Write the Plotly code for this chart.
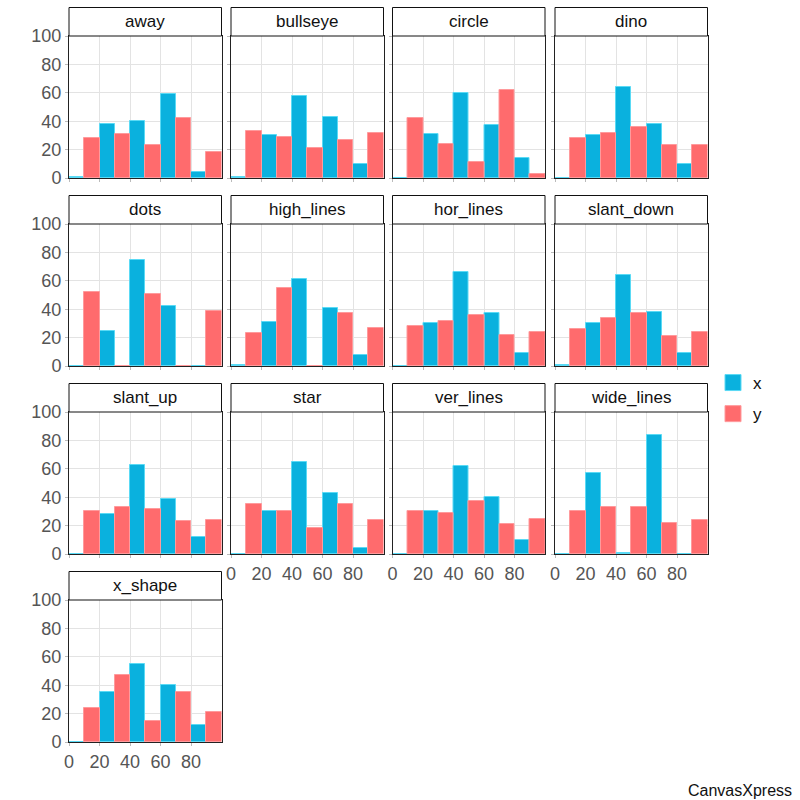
import plotly.graph_objects as go

# ---------------- data ----------------
DATASETS = ["away", "bullseye", "circle", "dino", "dots", "high_lines", "hor_lines",
            "slant_down", "slant_up", "star", "ver_lines", "wide_lines", "x_shape"]
BIN_CENTERS = [10, 30, 50, 70, 90]          # bins 0-20, 20-40, ..., 80-100
X_TICKS = [0, 20, 40, 60, 80]
Y_TICKS = [0, 20, 40, 60, 80, 100]
SERIES = ["x", "y"]

X_COUNTS = [
    [1, 38, 40, 59, 4],    # away
    [1, 30, 58, 43, 10],   # bullseye
    [0, 31, 60, 37, 14],   # circle
    [0, 30, 64, 38, 10],   # dino
    [0, 25, 75, 42, 0],    # dots
    [1, 31, 61, 41, 8],    # high_lines
    [0, 30, 66, 37, 9],    # hor_lines
    [1, 30, 64, 38, 9],    # slant_down
    [0, 28, 63, 39, 12],   # slant_up
    [0, 30, 65, 43, 4],    # star
    [0, 30, 62, 40, 10],   # ver_lines
    [0, 57, 1, 84, 0],     # wide_lines
    [0, 35, 55, 40, 12],   # x_shape
]
Y_COUNTS = [
    [28, 31, 23, 42, 18],  # away
    [33, 29, 21, 27, 32],  # bullseye
    [42, 24, 11, 62, 3],   # circle
    [28, 32, 36, 23, 23],  # dino
    [52, 0, 51, 0, 39],    # dots
    [23, 55, 0, 37, 27],   # high_lines
    [28, 32, 36, 22, 24],  # hor_lines
    [26, 34, 37, 21, 24],  # slant_down
    [30, 33, 32, 23, 24],  # slant_up
    [35, 30, 18, 35, 24],  # star
    [30, 29, 37, 21, 25],  # ver_lines
    [30, 33, 33, 22, 24],  # wide_lines
    [24, 47, 15, 35, 21],  # x_shape
]

# ---------------- styles ----------------
W = H = 800
BLUE, BLUE_EDGE = "#0AB1DE", "#5ADAF5"
RED, RED_EDGE = "#FF6B6D", "#FF9A9C"
FONT = "Liberation Sans, Arial, Helvetica, sans-serif"
GRID = "#E3E3E3"
TICKFONT = dict(family=FONT, size=18, color="#555555")

COL_LEFT = [69, 231, 392.5, 555]
PW = 152.5
ROW_TOP = [36, 224, 412, 600]
PH = 142
STRIP_H = 28.5
NCOLS = 4

fig = go.Figure()
layout = dict(shapes=[], annotations=[])

n = len(DATASETS)
for i, name in enumerate(DATASETS):
    r, c = divmod(i, NCOLS)
    k = i + 1
    xa = "x" if k == 1 else f"x{k}"
    ya = "y" if k == 1 else f"y{k}"
    for s, counts, col, edge in ((SERIES[0], X_COUNTS[i], BLUE, BLUE_EDGE),
                                 (SERIES[1], Y_COUNTS[i], RED, RED_EDGE)):
        fig.add_trace(go.Bar(
            x=BIN_CENTERS, y=counts, name=s, legendgroup=s, showlegend=False,
            marker=dict(color=col, line=dict(color=edge, width=1)),
            xaxis=xa, yaxis=ya, hoverinfo="x+y+name"))

    l = COL_LEFT[c]
    t = ROW_TOP[r]
    bottom_of_col = (i + NCOLS) >= n
    layout["xaxis" if k == 1 else f"xaxis{k}"] = dict(
        domain=[l / W, (l + PW) / W], anchor=ya, range=[0, 100], automargin=False,
        tickvals=X_TICKS, showgrid=True, gridcolor=GRID, gridwidth=1,
        zeroline=False, showline=True, mirror=True, linecolor="#222222", linewidth=1,
        ticks="outside", ticklen=3, tickcolor="#BBBBBB",
        showticklabels=bottom_of_col, tickfont=TICKFONT, fixedrange=True)
    layout["yaxis" if k == 1 else f"yaxis{k}"] = dict(
        domain=[1 - (t + PH) / H, 1 - t / H], anchor=xa, range=[0, 100], automargin=False,
        tickvals=Y_TICKS, showgrid=True, gridcolor=GRID, gridwidth=1,
        zeroline=False, showline=True, mirror=True, linecolor="#222222", linewidth=1,
        ticks="outside", ticklen=3, tickcolor="#BBBBBB",
        showticklabels=(c == 0), tickfont=TICKFONT, fixedrange=True)

    # strip (panel title)
    layout["shapes"].append(dict(
        type="rect", xref="paper", yref="paper",
        x0=l / W, x1=(l + PW) / W, y0=1 - t / H, y1=1 - (t - STRIP_H) / H,
        line=dict(color="#111111", width=1), fillcolor="white", layer="above"))
    layout["annotations"].append(dict(
        text=name, xref="paper", yref="paper",
        x=(l + PW / 2) / W, y=1 - (t - STRIP_H / 2) / H,
        xanchor="center", yanchor="middle", showarrow=False,
        font=dict(family=FONT, size=17, color="#111111")))

# legend entries (square swatches)
for s, col, edge in ((SERIES[0], BLUE, BLUE_EDGE), (SERIES[1], RED, RED_EDGE)):
    fig.add_trace(go.Scatter(
        x=[None], y=[None], mode="markers", name=s, legendgroup=s,
        marker=dict(symbol="square", size=16, color=col, line=dict(color=edge, width=1)),
        xaxis="x", yaxis="y"))

layout["annotations"].append(dict(
    text="CanvasXpress", xref="paper", yref="paper", x=794 / W, y=1 - 790 / H,
    xanchor="right", yanchor="middle", showarrow=False,
    font=dict(family=FONT, size=16, color="#111111")))

fig.update_layout(
    width=W, height=H, margin=dict(l=0, r=0, t=0, b=0, pad=0, autoexpand=False),
    paper_bgcolor="white", plot_bgcolor="white",
    barmode="group", bargap=0, bargroupgap=0,
    font=dict(family=FONT, size=16, color="#111111"),
    legend=dict(x=713 / W, y=1 - 365 / H, xanchor="left", yanchor="top",
                font=dict(family=FONT, size=17, color="#111111"),
                bgcolor="rgba(0,0,0,0)", tracegroupgap=6),
    **layout)

fig.write_html("out.html", config={"displayModeBar": False},
               post_script="document.body.style.margin='0';document.body.style.overflow='hidden';")
